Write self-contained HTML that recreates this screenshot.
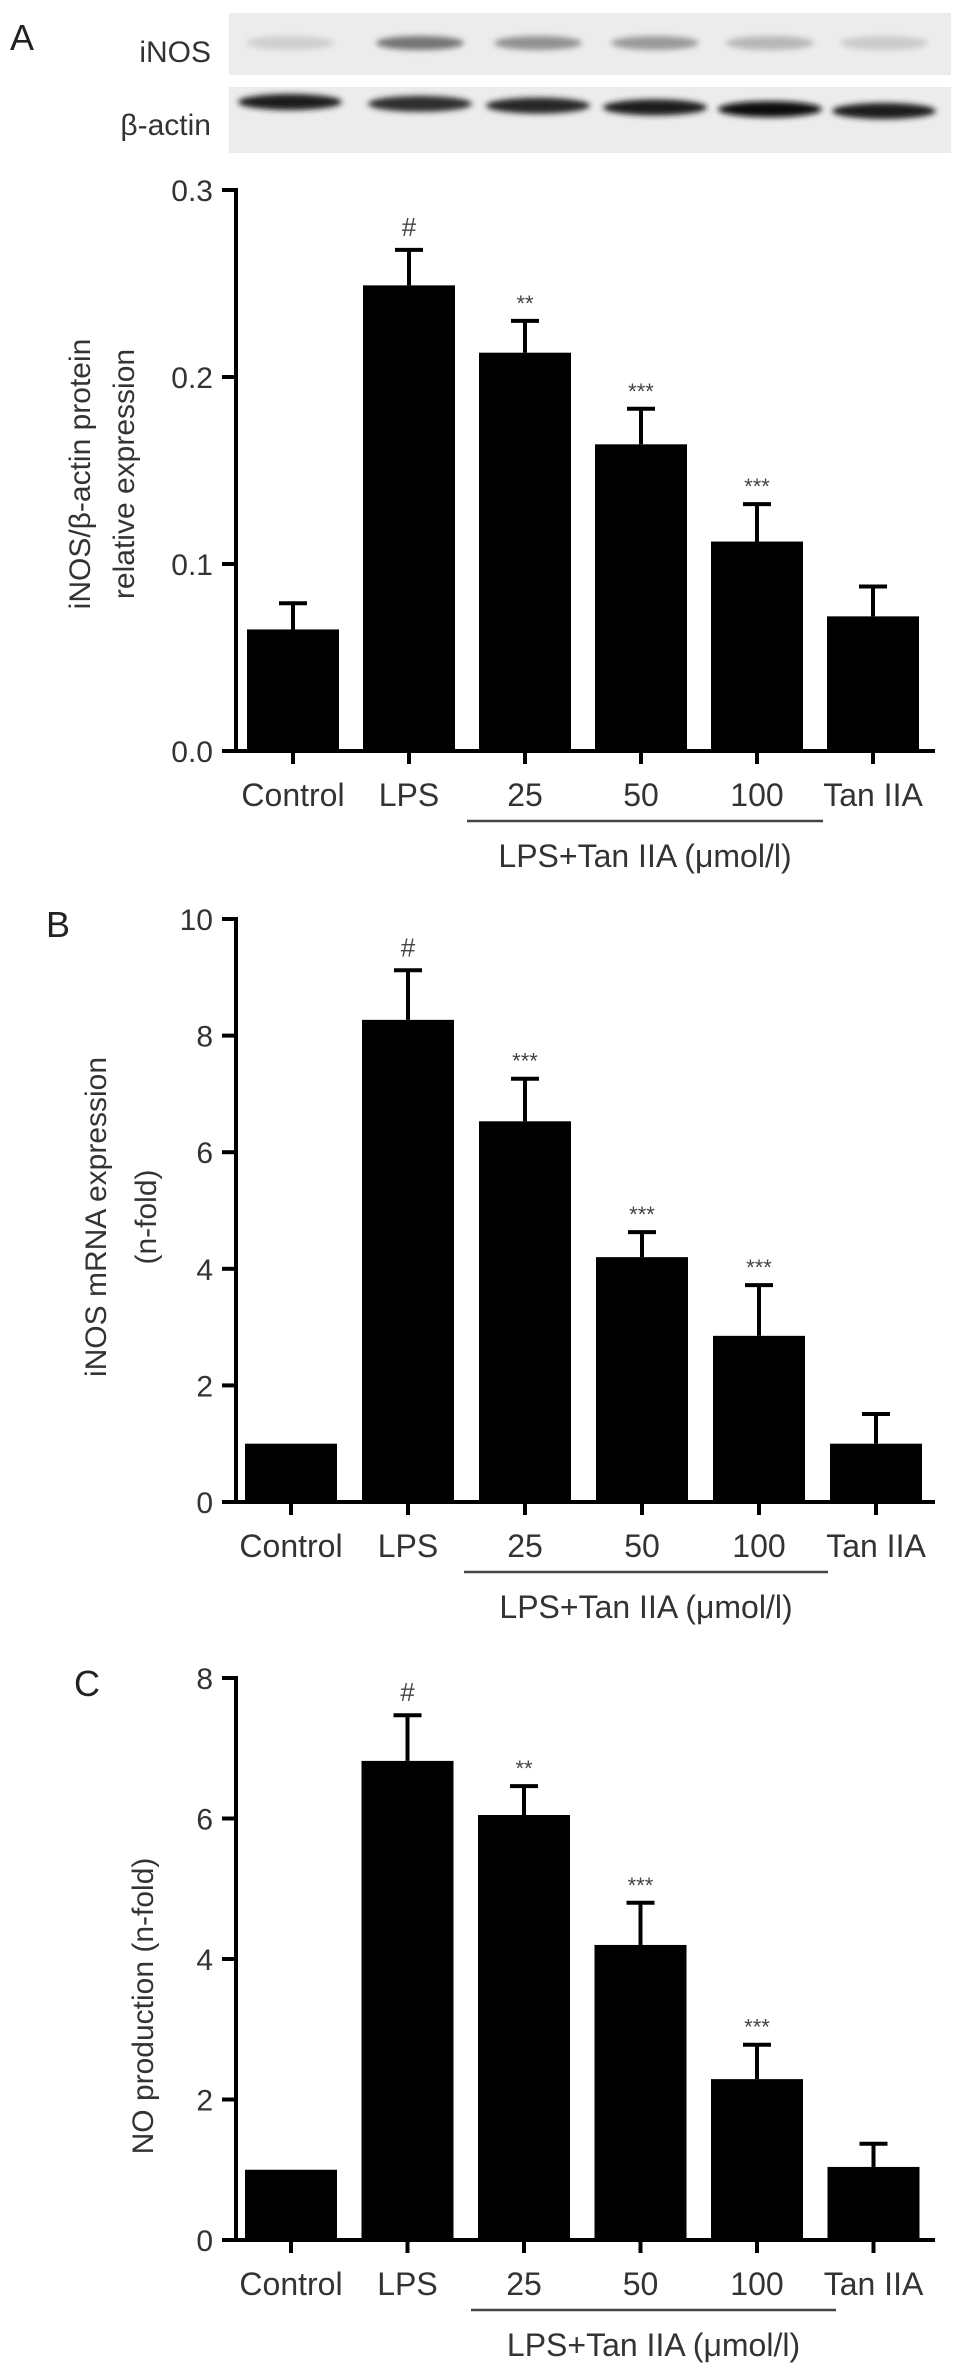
<!DOCTYPE html>
<html><head><meta charset="utf-8">
<style>
html,body{margin:0;padding:0;background:#fff;}
svg{display:block;font-family:"Liberation Sans",Arial,sans-serif;}
</style></head>
<body>
<svg id="fig" width="969" height="2376" viewBox="0 0 969 2376" xmlns="http://www.w3.org/2000/svg">
<defs>
<filter id="blur3" x="-20%" y="-100%" width="140%" height="300%"><feGaussianBlur stdDeviation="3"/></filter>
<filter id="blur5" x="-20%" y="-100%" width="140%" height="300%"><feGaussianBlur stdDeviation="5"/></filter>
</defs>
<text x="10" y="50" font-size="36" fill="#222">A</text>
<text x="211" y="62" font-size="30" fill="#333" text-anchor="end">iNOS</text>
<text x="211" y="135" font-size="30" fill="#333" text-anchor="end">β-actin</text>
<rect x="229" y="13" width="722" height="62" fill="#ececec"/>
<rect x="229" y="87" width="722" height="66" fill="#ececec"/>
<g id="blots"></g>
<text x="46" y="937" font-size="36" fill="#222">B</text>
<text x="74" y="1696" font-size="36" fill="#222">C</text>
<g id="charts"></g>
</svg>
<script>
// Blot lane intensities (0..1 darkness)
const laneX = [290, 420, 538, 655, 770, 884];
const inosBand = [0.12, 0.6, 0.45, 0.4, 0.25, 0.15];
const actinBand = [0.95, 0.85, 0.9, 0.95, 1.0, 0.95];

// Panel data
const categories = ["Control", "LPS", "25", "50", "100", "Tan IIA"];
const valuesA = [0.065, 0.249, 0.213, 0.164, 0.112, 0.072];
const errorsA = [0.079, 0.268, 0.230, 0.183, 0.132, 0.088];
const marksA = ["", "#", "**", "***", "***", ""];
const ticksA = ["0.0", "0.1", "0.2", "0.3"];
const valuesB = [1.0, 8.27, 6.53, 4.2, 2.85, 1.0];
const errorsB = [1.0, 9.12, 7.26, 4.63, 3.72, 1.51];
const marksB = ["", "#", "***", "***", "***", ""];
const ticksB = ["0", "2", "4", "6", "8", "10"];
const valuesC = [1.0, 6.82, 6.05, 4.2, 2.29, 1.04];
const errorsC = [1.0, 7.47, 6.46, 4.8, 2.78, 1.37];
const marksC = ["", "#", "**", "***", "***", ""];
const ticksC = ["0", "2", "4", "6", "8"];

const NS = "http://www.w3.org/2000/svg";
function mk(tag, attrs, parent) {
  const e = document.createElementNS(NS, tag);
  for (const k in attrs) e.setAttribute(k, attrs[k]);
  parent.appendChild(e);
  return e;
}

const blots = document.getElementById("blots");
laneX.forEach((x, i) => {
  const g1 = Math.round(230 - inosBand[i] * 190);
  const b1 = mk("ellipse", {cx: x, cy: 43, rx: 44, ry: 7, fill: `rgb(${g1},${g1},${g1})`, filter: "url(#blur3)"}, blots);
  
  
  const g2 = Math.round(230 - actinBand[i] * 215);
  const b2 = mk("ellipse", {cx: x, cy: 102 + i * 1.8, rx: 52, ry: 8, fill: `rgb(${g2},${g2},${g2})`, filter: "url(#blur3)"}, blots);
  
  
});

const charts = document.getElementById("charts");
function panel(p) {
  const g = mk("g", {}, charts);
  
  
  const y = v => p.y0 - (v / p.max) * (p.y0 - p.yTop);
  const x = i => p.x0 + i * p.step;
  // bars
  p.values.forEach((v, i) => {
    const r = mk("rect", {x: x(i) - 46, y: y(v), width: 92, height: p.y0 - y(v), fill: "#000"}, g);
    
    
    const e = p.errors[i];
    if (e > v + 0.0001) {
      const l = mk("line", {x1: x(i), x2: x(i), y1: y(v), y2: y(e), stroke: "#000", "stroke-width": 4}, g);
      
      
      const c = mk("line", {x1: x(i) - 14, x2: x(i) + 14, y1: y(e), y2: y(e), stroke: "#000", "stroke-width": 4}, g);
      
      
    }
    if (p.marks[i]) {
      const isHash = p.marks[i] === "#";
      const t = mk("text", {x: x(i), y: y(e) - (isHash ? 14 : 10), "font-size": isHash ? 26 : 22, fill: "#444", "text-anchor": "middle"}, g);
      t.textContent = p.marks[i];
      
      
    }
    // x tick
    const tk = mk("line", {x1: x(i), x2: x(i), y1: p.y0, y2: p.y0 + 13, stroke: "#000", "stroke-width": 4}, g);
    
    
    const lb = mk("text", {x: x(i), y: p.y0 + 55, "font-size": 32, fill: "#333", "text-anchor": "middle"}, g);
    lb.textContent = categories[i];
    
    
  });
  // axes
  const ya = mk("line", {x1: 236, x2: 236, y1: p.yTop - 2, y2: p.y0 + 2, stroke: "#000", "stroke-width": 4}, g);
  
  
  const xa = mk("line", {x1: 222, x2: 935, y1: p.y0, y2: p.y0, stroke: "#000", "stroke-width": 4}, g);
  
  
  p.ticks.forEach((t, j) => {
    const v = parseFloat(t);
    const tl = mk("line", {x1: 222, x2: 236, y1: y(v), y2: y(v), stroke: "#000", "stroke-width": 4}, g);
    
    
    const tt = mk("text", {x: 213, y: y(v) + 11, "font-size": 30, fill: "#333", "text-anchor": "end"}, g);
    tt.textContent = t;
    
    
  });
  // bracket & group label
  const br = mk("line", {x1: p.bx1, x2: p.bx2, y1: p.y0 + 70, y2: p.y0 + 70, stroke: "#444", "stroke-width": 2.5}, g);
  
  
  const gl = mk("text", {x: (p.bx1 + p.bx2) / 2, y: p.y0 + 116, "font-size": 32, fill: "#333", "text-anchor": "middle"}, g);
  gl.textContent = "LPS+Tan IIA (μmol/l)";
  
  
  // y title
  p.title.forEach((line, k) => {
    const cx = p.titleX[k];
    const tt = mk("text", {x: cx, y: p.titleY, "font-size": 30, fill: "#333", "text-anchor": "middle", transform: `rotate(-90 ${cx} ${p.titleY})`, dy: 10}, g);
    tt.textContent = line;
    
    
  });
}

panel({name: "chart-inos-protein", values: valuesA, errors: errorsA, marks: marksA, ticks: ticksA,
  max: 0.3, y0: 751, yTop: 190, x0: 293, step: 116, bx1: 467, bx2: 823,
  title: ["iNOS/β-actin protein", "relative expression"], titleX: [80, 124], titleY: 474});
panel({name: "chart-inos-mrna", values: valuesB, errors: errorsB, marks: marksB, ticks: ticksB,
  max: 10, y0: 1502, yTop: 919, x0: 291, step: 117, bx1: 464, bx2: 828,
  title: ["iNOS mRNA expression", "(n-fold)"], titleX: [96, 146], titleY: 1217});
panel({name: "chart-no-production", values: valuesC, errors: errorsC, marks: marksC, ticks: ticksC,
  max: 8, y0: 2240, yTop: 1678, x0: 291, step: 116.5, bx1: 471, bx2: 836,
  title: ["NO production (n-fold)"], titleX: [143], titleY: 2006});
</script>
</body></html>
